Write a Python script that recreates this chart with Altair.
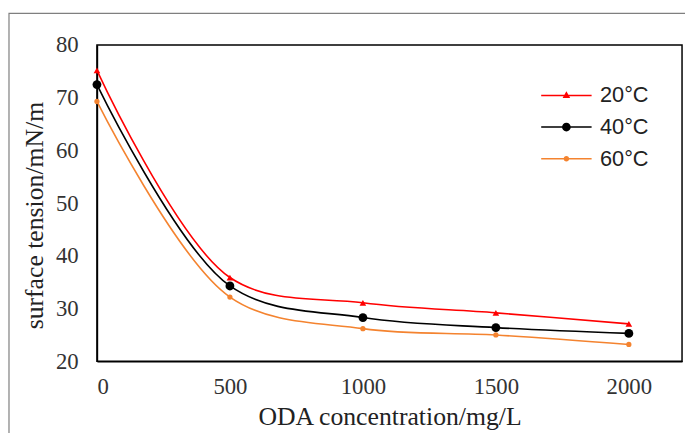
import altair as alt
import pandas as pd

conc = [0, 500, 1000, 1500, 2000]
t20 = [75.2, 35.9, 31.1, 29.2, 27.1]
t40 = [72.5, 34.3, 28.3, 26.4, 25.3]
t60 = [69.3, 32.2, 26.2, 25.0, 23.2]
series = ["20°C", "40°C", "60°C"]
colors = ["#ff0000", "#000000", "#f4832f"]
shapes = ["triangle-up", "circle", "circle"]
sizes = [45, 80, 28]
# legend symbols (filled paths): a thin bar with the marker on it
leg_shapes = [
    "M-3,-0.09H3V0.09H-3ZM0,-0.5L0.45,0.3L-0.45,0.3Z",
    "M-3,-0.09H3V0.09H-3ZM0.52,0A0.52,0.52,0,1,1,-0.52,0A0.52,0.52,0,1,1,0.52,0Z",
    "M-3,-0.09H3V0.09H-3ZM0.33,0A0.33,0.33,0,1,1,-0.33,0A0.33,0.33,0,1,1,0.33,0Z",
]

rows = []
for name, vals in zip(series, [t20, t40, t60]):
    for c, v in zip(conc, vals):
        rows.append({"conc": c, "tension": v, "series": name})
df = pd.DataFrame(rows)

W, H = 592, 320
serif = "Liberation Serif"

x = alt.X("conc:Q", scale=alt.Scale(domain=[0, 2200], nice=False),
          axis=alt.Axis(values=[0, 500, 1000, 1500, 2000], format="d", title="ODA concentration/mg/L",
                        grid=False, tickSize=0, labelPadding=15, titlePadding=5))
y = alt.Y("tension:Q", scale=alt.Scale(domain=[20, 80], nice=False),
          axis=alt.Axis(values=[20, 30, 40, 50, 60, 70, 80], format="d", title="surface tension/mN/m",
                        grid=False, tickSize=0, labelPadding=19,
                        titleX=-63, titleY=172, titleBaseline="middle", titleAlign="center", titleAngle=270))

leg = alt.Legend(title=None, orient="none", legendX=464, legendY=40,
                 labelFont="Liberation Sans", labelFontSize=22, labelColor="#222",
                 rowPadding=10, labelOffset=23, symbolSize=289, symbolStrokeWidth=0,
                 symbolOpacity=1)

leg_layer = alt.Chart(df).mark_point(filled=True).encode(
    x=x, y=y,
    color=alt.Color("series:N", scale=alt.Scale(domain=series, range=colors), legend=leg),
    shape=alt.Shape("series:N", scale=alt.Scale(domain=series, range=leg_shapes), legend=leg),
    opacity=alt.value(0),
)

line_layers = [
    alt.Chart(df).transform_filter(alt.datum.series == s).mark_line(
        interpolate="catmull-rom", strokeWidth=1.6, color=c).encode(x=x, y=y)
    for s, c in zip(series, colors)
]

pt_layers = [
    alt.Chart(df).transform_filter(alt.datum.series == s).mark_point(
        filled=True, opacity=1, shape=shp, size=sz, color=c).encode(x=x, y=y)
    for s, c, shp, sz in zip(series, colors, shapes, sizes)
]

frame = alt.Chart(pd.DataFrame({"a": [0]})).mark_rect(fill=None, stroke="#7f7f7f", strokeWidth=1.2, clip=False).encode(
    x=alt.value(-89), x2=alt.value(720), y=alt.value(-32), y2=alt.value(420)
)

chart = alt.layer(leg_layer, frame, *line_layers, *pt_layers).properties(
    width=W, height=H,
    autosize=alt.AutoSizeParams(type="none"),
    padding={"left": 90, "top": 35, "right": 3, "bottom": 70},
).configure_view(
    stroke="#000", strokeWidth=1.5
).configure_axis(
    labelFont=serif, labelFontSize=23, labelColor="#333",
    titleFont=serif, titleFontSize=26, titleFontWeight="normal", titleColor="#222",
    domainColor="#000", domainWidth=1.5, tickColor="#000",
)

chart.save("out.html", embed_options={"renderer": "svg", "actions": False})
